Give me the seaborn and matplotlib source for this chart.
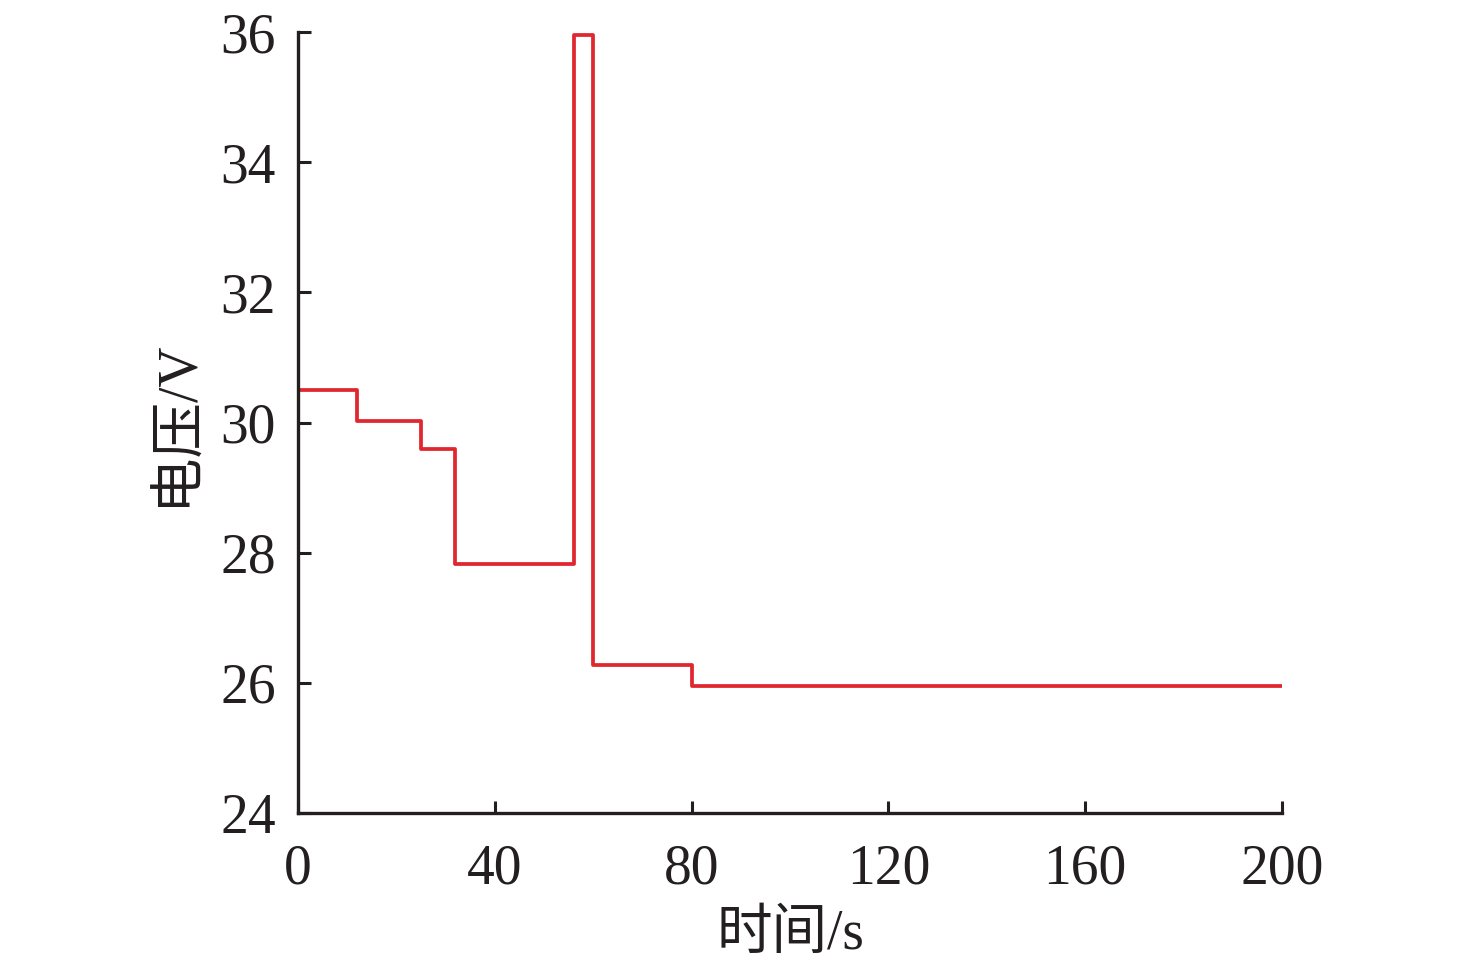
import matplotlib
matplotlib.use("Agg")
import matplotlib.pyplot as plt
import seaborn as sns
import pandas as pd

# Voltage step profile
times = [0, 12, 25, 32, 56, 60, 80, 200]
volts = [30.5, 30.03, 29.6, 27.83, 35.95, 26.27, 25.95, 25.95]
x_ticks = [0, 40, 80, 120, 160, 200]
y_ticks = [24, 26, 28, 30, 32, 34, 36]

sns.set_style("white")
plt.rcParams["font.family"] = ["Liberation Serif", "Noto Sans CJK SC"]

df = pd.DataFrame({"t": times, "v": volts})

fig = plt.figure(figsize=(14.76, 9.72), dpi=100)
ax = fig.add_axes([0.2019, 0.1636, 0.6667, 0.8034])
sns.lineplot(data=df, x="t", y="v", ax=ax, color="#e0262e", linewidth=2.7,
             drawstyle="steps-post")

ax.set_xlim(0, 200)
ax.set_ylim(24, 36)
ax.set_xticks(x_ticks)
ax.set_yticks(y_ticks)
ax.tick_params(bottom=True, left=True, direction="in", length=9, width=2.2,
               labelsize=40, colors="#231f20")
ax.tick_params(axis="x", pad=22)
ax.tick_params(axis="y", pad=16)
for s in ["top", "right"]:
    ax.spines[s].set_visible(False)
for s in ["left", "bottom"]:
    ax.spines[s].set_linewidth(2.4)
    ax.spines[s].set_color("#231f20")

ax.set_xlabel("时间/s", fontsize=40, labelpad=10, color="#231f20")
ax.set_ylabel("电压/V", fontsize=40, labelpad=12, color="#231f20")

fig.savefig("out.png", dpi=100)
